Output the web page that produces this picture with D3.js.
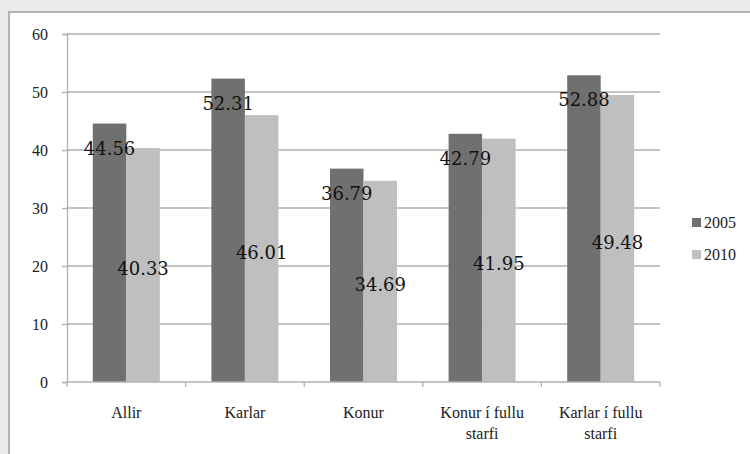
<!DOCTYPE html>
<meta charset="utf-8">
<script src="https://d3js.org/d3.v7.min.js"></script>
<style>
body { margin: 0; background: #ebebeb; }
svg { display: block; }
</style>
<div id="chart"></div>
<script>

const categories = ["Allir", "Karlar", "Konur", "Konur í fullu starfi", "Karlar í fullu starfi"];
const categoryLines = [["Allir"], ["Karlar"], ["Konur"], ["Konur í fullu", "starfi"], ["Karlar í fullu", "starfi"]];
const seriesNames = ["2005", "2010"];
const values2005 = [44.56, 52.31, 36.79, 42.79, 52.88];
const values2010 = [40.33, 46.01, 34.69, 41.95, 49.48];
const yTicks = [0, 10, 20, 30, 40, 50, 60];
const colors = ["#707070", "#bfbfbf"];

const serif = "'Liberation Serif', 'DejaVu Serif', serif";
const labelFont = "'DejaVu Serif', 'Liberation Serif', serif";

const W = 750, H = 454;
const margin = {top: 34, right: 90, bottom: 72, left: 67},
    width = W - margin.left - margin.right,
    height = H - margin.top - margin.bottom;

const svg = d3.select("#chart").append("svg")
    .attr("width", W).attr("height", H);

// frame
svg.append("rect")
    .attr("x", 9).attr("y", 12)
    .attr("width", W + 10).attr("height", H + 10)
    .attr("fill", "#fff")
    .attr("stroke", "#b3b3b3")
    .attr("stroke-width", 2);

const g = svg.append("g")
    .attr("transform", `translate(${margin.left},${margin.top})`);

const x0 = d3.scaleBand().domain(categories).range([0, width]).padding(0);
const x1 = d3.scaleBand().domain(seriesNames).range([0, x0.bandwidth()])
    .paddingInner(0).paddingOuter(0.77);
const y = d3.scaleLinear().domain([0, 60]).range([height, 0]);

// gridlines
g.append("g")
  .selectAll("line")
  .data(yTicks.filter(d => d > 0))
  .join("line")
    .attr("x1", 0).attr("x2", width)
    .attr("y1", d => y(d)).attr("y2", d => y(d))
    .attr("stroke", "#b0b0b0")
    .attr("stroke-width", 1.3);

// y axis
const yAxis = d3.axisLeft(y).tickValues(yTicks).tickSize(5).tickPadding(14);
const yg = g.append("g").call(yAxis)
    .attr("font-family", serif).attr("font-size", 16);
yg.select(".domain").attr("stroke", "#b0b0b0").attr("stroke-width", 1.3);
yg.selectAll(".tick line").attr("stroke", "#b0b0b0").attr("stroke-width", 1.3);
yg.selectAll(".tick text").attr("fill", "#222").attr("dy", "0.32em");

// bars
const rows = categories.map((c, i) => ({cat: c, vals: [values2005[i], values2010[i]]}));

const groups = g.append("g").selectAll("g")
  .data(rows)
  .join("g")
    .attr("transform", d => `translate(${x0(d.cat)},0)`);

groups.selectAll("rect")
  .data(d => d.vals.map((v, j) => ({s: seriesNames[j], v: v, j: j})))
  .join("rect")
    .attr("x", d => x1(d.s))
    .attr("y", d => y(d.v))
    .attr("width", x1.bandwidth())
    .attr("height", d => height - y(d.v))
    .attr("fill", d => colors[d.j]);

// x axis
const xg = g.append("g").attr("transform", `translate(0,${height})`);
xg.append("line")
    .attr("x1", 0).attr("x2", width)
    .attr("stroke", "#b0b0b0").attr("stroke-width", 1.3);
xg.selectAll(".xt")
  .data(d3.range(categories.length + 1))
  .join("line")
    .attr("class", "xt")
    .attr("x1", i => i * x0.step()).attr("x2", i => i * x0.step())
    .attr("y1", 0).attr("y2", 5)
    .attr("stroke", "#b0b0b0").attr("stroke-width", 1.3);

const xl = xg.selectAll(".xl")
  .data(categories)
  .join("text")
    .attr("font-family", serif)
    .attr("font-size", 16)
    .attr("fill", "#222")
    .attr("text-anchor", "middle")
    .attr("transform", d => `translate(${x0(d) + x0.bandwidth() / 2},36)`);
xl.each(function(d, i) {
  d3.select(this).selectAll("tspan")
    .data(categoryLines[i])
    .join("tspan")
      .attr("x", 0)
      .attr("y", (t, k) => k * 21)
      .text(t => t);
});

// value labels
groups.append("text")
    .attr("font-family", labelFont).attr("font-size", 18).attr("fill", "#111")
    .attr("text-anchor", "middle")
    .attr("x", x1("2005") + x1.bandwidth() / 2)
    .attr("y", d => y(d.vals[0]) + 31)
    .text(d => d3.format(".2f")(d.vals[0]));

groups.append("text")
    .attr("font-family", labelFont).attr("font-size", 18).attr("fill", "#111")
    .attr("text-anchor", "middle")
    .attr("x", x1("2010") + x1.bandwidth() / 2)
    .attr("y", d => (y(d.vals[1]) + height) / 2 + 10)
    .text(d => d3.format(".2f")(d.vals[1]));

// legend
const legend = svg.append("g").attr("transform", "translate(692,218)");
const li = legend.selectAll("g")
  .data(seriesNames)
  .join("g")
    .attr("transform", (d, i) => `translate(0,${i * 32})`);
li.append("rect")
    .attr("width", 9).attr("height", 9)
    .attr("fill", (d, i) => colors[i]);
li.append("text")
    .attr("font-family", serif).attr("font-size", 16).attr("fill", "#222")
    .attr("x", 12).attr("y", 10)
    .text(d => d);

</script>
